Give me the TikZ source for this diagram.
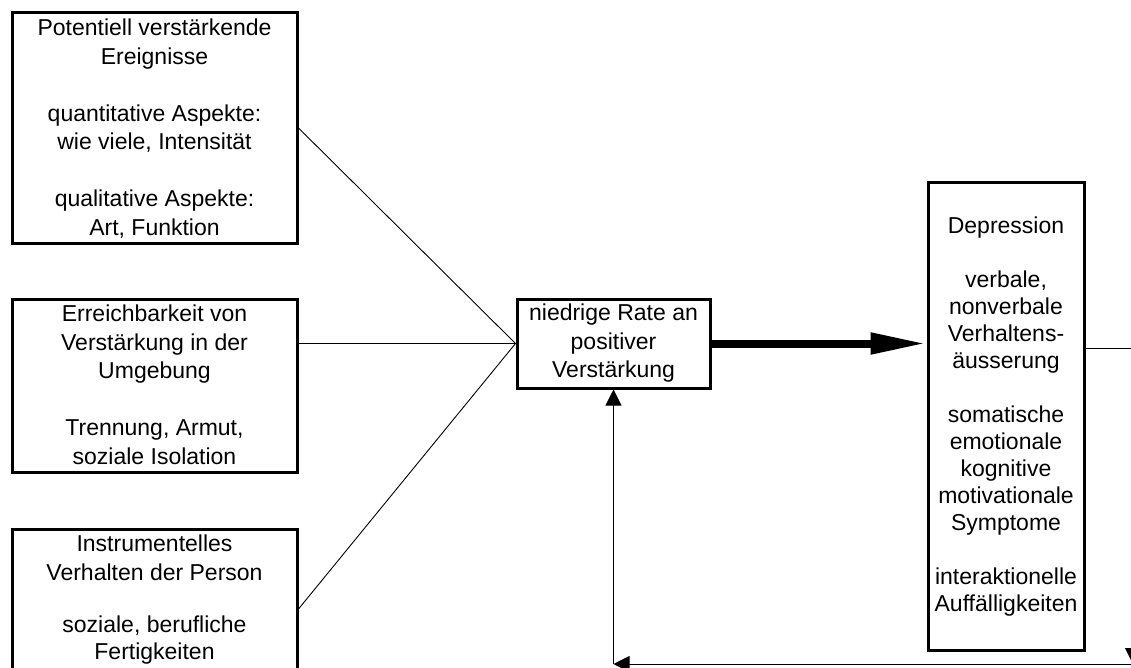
\documentclass[tikz,border=0pt]{standalone}
\usepackage{fontspec}
\setmainfont{Liberation Sans}
\usetikzlibrary{arrows.meta, positioning}

\newcommand{\obentext}[2]{\parbox[c][#1][t]{279pt}{\centering\vspace*{3pt}#2}}

\begin{document}
\begin{tikzpicture}[x=1pt, y=-1pt,
        font=\fontsize{23}{28.5}\selectfont,
        kasten/.style={draw, line width=3pt, inner sep=3pt, align=center},
        linie/.style={line width=0.9pt},
        rueck/.style={line width=0.9pt, -{Triangle[length=16pt, width=16pt]}}
    ]
    \useasboundingbox (0,0) rectangle (1131,668);
    \clip (0,0) rectangle (1131,668);

    % linke Spalte
    \node[kasten] (ereig) at (154.5,128) {\obentext{224pt}{Potentiell verstärkende\\ Ereignisse\\[28.5pt]
        quantitative Aspekte:\\ wie viele, Intensität\\[28.5pt] qualitative Aspekte:\\ Art, Funktion}};
    \node[kasten] (umgeb) at (154.5,385.5) {\obentext{167pt}{Erreichbarkeit von\\ Verstärkung in der\\ Umgebung\\[28.5pt]
        Trennung, Armut,\\ soziale Isolation}};
    \node[kasten] (instr) at (154.5,609) {\obentext{154pt}{Instrumentelles\\ Verhalten der Person\\[24pt]
        soziale, berufliche\\[-1.5pt] Fertigkeiten}};

    % Mitte und rechts
    \node[kasten, minimum width=193, minimum height=89] (rate) at (613.5,343.5)
        {niedrige Rate an\\ positiver\\ Verstärkung};
    \node[kasten, minimum width=156, minimum height=467,
          font=\fontsize{23}{27}\selectfont] (depr) at (1006,416.5)
        {Depression\\[27pt] verbale,\\ nonverbale\\ Verhaltens-\\ äusserung\\[27pt]
        somatische\\ emotionale\\ kognitive\\ motivationale\\ Symptome\\[27pt]
        interaktionelle\\ Auffälligkeiten};

    \draw[linie] (ereig.east) -- (rate.west);
    \draw[linie] (umgeb.east |- rate.west) -- (rate.west);
    \draw[linie] (instr.east) -- (rate.west);

    \draw[line width=8pt, -{Triangle[length=56pt, width=20pt]}] (rate.east) -- (rate.east -| depr.west);

    % Rueckkopplung
    \coordinate (ecke) at (1133,348);
    \coordinate (unten) at (1133,664);
    \coordinate (links) at (613.5,664);
    \draw[linie] (ecke -| depr.east) -- (ecke);
    \draw[rueck] (ecke) -- (unten);
    \draw[rueck] (unten) -- (links);
    \draw[rueck] (links) -- (rate.south);
\end{tikzpicture}
\end{document}
